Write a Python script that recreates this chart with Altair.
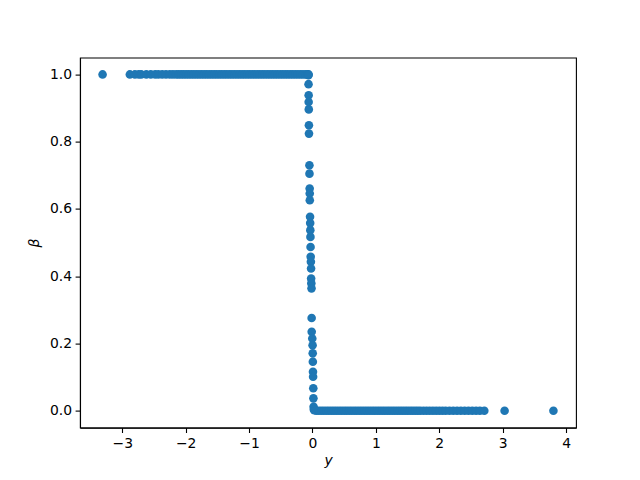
import altair as alt
import pandas as pd

# beta = 1 branch (y values)
top_y = [-3.31, -2.88, -2.80, -2.74, -2.70, -2.62, -2.55, -2.48, -2.43, -2.37,
         -2.31, -2.25, -2.20, -2.15, -2.11, -2.07, -2.03, -1.99, -1.95, -1.91,
         -1.87, -1.83, -1.79, -1.75, -1.71, -1.67, -1.63, -1.59, -1.55, -1.51,
         -1.47, -1.43, -1.39, -1.35, -1.31, -1.27, -1.23, -1.19, -1.15, -1.11,
         -1.07, -1.03, -0.99, -0.95, -0.91, -0.87, -0.83, -0.79, -0.75, -0.71,
         -0.67, -0.63, -0.59, -0.55, -0.51, -0.47, -0.43, -0.39, -0.35, -0.31,
         -0.27, -0.23, -0.19, -0.15, -0.11, -0.08, -0.06]

# transition region near y = 0
mid_y = [-0.063, -0.062, -0.060, -0.060, -0.058, -0.056, -0.055, -0.048, -0.047,
         -0.044, -0.043, -0.042, -0.038, -0.036, -0.034, -0.032, -0.030, -0.028,
         -0.025, -0.022, -0.021, -0.018, -0.015, -0.013, -0.012, -0.003, 0.002,
         0.004, 0.006, 0.008, 0.010, 0.013, 0.015, 0.018, 0.022, 0.028]
mid_beta = [0.998, 0.971, 0.938, 0.918, 0.896, 0.849, 0.824, 0.730, 0.705,
            0.661, 0.646, 0.626, 0.577, 0.558, 0.537, 0.517, 0.487, 0.458,
            0.443, 0.423, 0.393, 0.379, 0.364, 0.276, 0.235, 0.215, 0.195,
            0.171, 0.146, 0.116, 0.101, 0.067, 0.037, 0.012, 0.004, 0.002]

# beta = 0 branch (y values)
bot_y = [0.06, 0.10, 0.14, 0.18, 0.22, 0.26, 0.30, 0.34, 0.38, 0.42,
         0.46, 0.50, 0.54, 0.58, 0.62, 0.66, 0.70, 0.74, 0.78, 0.82,
         0.86, 0.90, 0.94, 0.98, 1.02, 1.06, 1.10, 1.14, 1.18, 1.22,
         1.26, 1.30, 1.34, 1.38, 1.42, 1.46, 1.50, 1.54, 1.58, 1.62,
         1.66, 1.70, 1.75, 1.80, 1.85, 1.90, 1.95, 2.00, 2.05, 2.10,
         2.16, 2.22, 2.28, 2.34, 2.40, 2.46, 2.52, 2.58, 2.64, 2.71,
         3.03, 3.80]

xs = top_y + mid_y + bot_y
bs = [1.0] * len(top_y) + mid_beta + [0.0] * len(bot_y)
df = pd.DataFrame({"y": xs, "beta": bs})

FONT = "DejaVu Sans"

chart = alt.Chart(df).mark_circle(size=74, color="#1f77b4", opacity=1).encode(
    x=alt.X("y:Q",
            scale=alt.Scale(domain=[-3.666, 4.156], nice=False, zero=False),
            axis=alt.Axis(title="y", values=[-3, -2, -1, 0, 1, 2, 3, 4],
                          format="d", titleFontStyle="italic",
                          titlePadding=4)),
    y=alt.Y("beta:Q",
            scale=alt.Scale(domain=[-0.05, 1.05], nice=False, zero=False),
            axis=alt.Axis(title="β", values=[0, 0.2, 0.4, 0.6, 0.8, 1.0],
                          format=".1f", titleFontStyle="italic",
                          titlePadding=8)),
).properties(
    width=496, height=370,
    autosize="none",
    padding={"left": 72, "top": 49.6, "right": 56, "bottom": 44.4},
).configure_view(
    stroke="black", strokeWidth=1.1
).configure_axis(
    grid=False,
    domainColor="black", domainWidth=1.1,
    tickColor="black", tickWidth=1.1, tickSize=4.9,
    labelFont=FONT, labelFontSize=13.9, labelColor="black", labelPadding=3.5,
    titleFont=FONT, titleFontSize=13.9, titleColor="black", titleFontWeight="normal",
)

chart.save("out.html", embed_options={"renderer": "svg", "actions": False})
